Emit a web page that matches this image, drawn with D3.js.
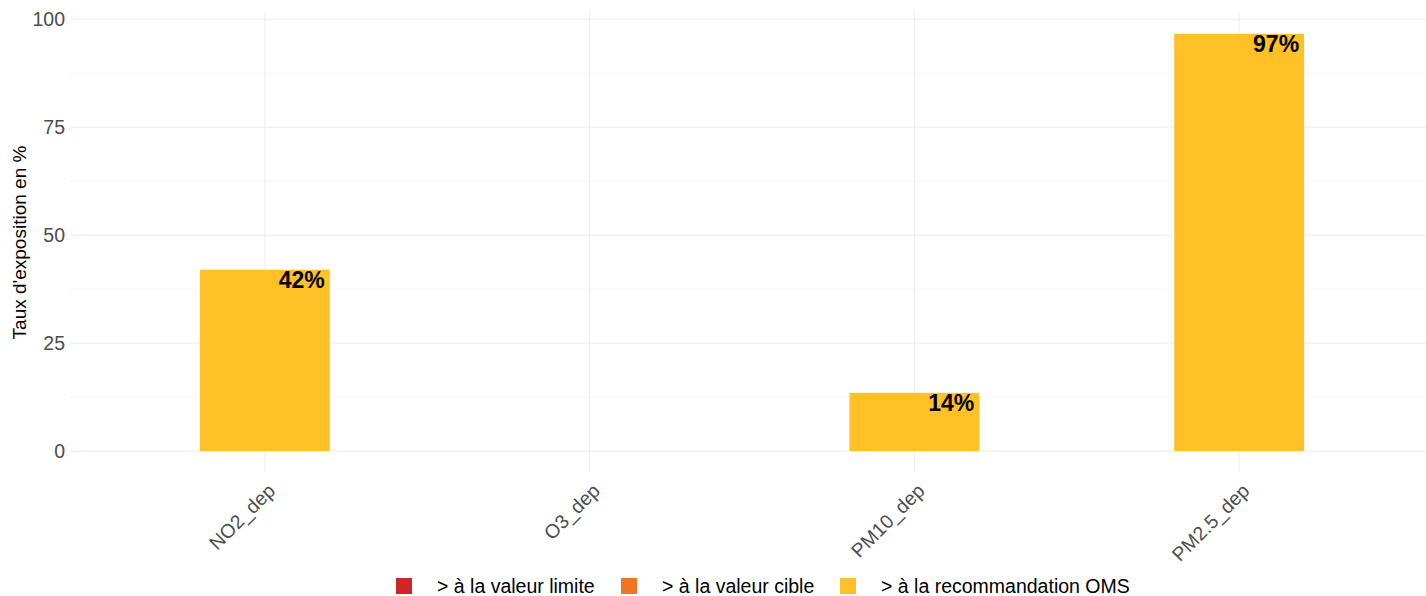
<!DOCTYPE html>
<html>
<head>
<meta charset="utf-8">
<script src="https://cdn.jsdelivr.net/npm/d3@7"></script>
<style>
  body { margin: 0; background: #fff; }
  text { font-family: "Liberation Sans", Arial, sans-serif; }
</style>
</head>
<body>
<svg id="chart"></svg>
<script>
var WIDTH = 1426, HEIGHT = 596;

// data
var categories = ["NO2_dep", "O3_dep", "PM10_dep", "PM2.5_dep"];
var values = [42, 0, 13.5, 96.6];
var labels = ["42%", "", "14%", "97%"];
var yTicks = [0, 25, 50, 75, 100];
var yMinor = [12.5, 37.5, 62.5, 87.5];
var legendLabels = ["> à la valeur limite", "> à la valeur cible", "> à la recommandation OMS"];
var legendColors = ["#CD2626", "#EE7621", "#FFC125"];

var panel = {left: 70, right: 1434, top: 13, bottom: 472};

var svg = d3.select("#chart").attr("width", WIDTH).attr("height", HEIGHT);

var x = d3.scaleLinear().domain([0.4, categories.length + 0.6]).range([panel.left, panel.right]);
var y = d3.scaleLinear().domain([-4.83, 101.43]).range([panel.bottom, panel.top]);
var step = x(2) - x(1);
var barW = step * 0.4;

var g = svg.append("g");

// minor gridlines
g.selectAll(".minor").data(yMinor).enter().append("line")
  .attr("x1", panel.left).attr("x2", WIDTH)
  .attr("y1", d => y(d)).attr("y2", d => y(d))
  .style("stroke", "#f4f4f4").style("stroke-width", 1);

// major gridlines
g.selectAll(".major").data(yTicks).enter().append("line")
  .attr("x1", panel.left).attr("x2", WIDTH)
  .attr("y1", d => y(d)).attr("y2", d => y(d))
  .style("stroke", "#ebebeb").style("stroke-width", 1);

g.selectAll(".vgrid").data(categories).enter().append("line")
  .attr("x1", (d, i) => x(i + 1)).attr("x2", (d, i) => x(i + 1))
  .attr("y1", panel.top).attr("y2", panel.bottom)
  .style("stroke", "#ebebeb").style("stroke-width", 1);

// bars
g.selectAll(".bar").data(values).enter().append("rect")
  .attr("x", (d, i) => x(i + 1) - barW / 2)
  .attr("width", barW)
  .attr("y", d => y(d))
  .attr("height", d => y(0) - y(d))
  .style("fill", "#FFC125")
  .style("stroke", d => d === 0 ? "#fff" : "none")
  .style("stroke-width", 1);

// value labels
g.selectAll(".lab").data(values).enter().append("text")
  .attr("x", (d, i) => x(i + 1) + barW / 2 - 5)
  .attr("y", d => y(d) + 18)
  .attr("text-anchor", "end")
  .style("font-size", "23px").style("font-weight", "bold").style("fill", "#000")
  .text((d, i) => labels[i]);

// y axis
var yAxis = g.append("g")
  .attr("transform", "translate(" + panel.left + ",0)")
  .call(d3.axisLeft(y).tickValues(yTicks).tickSize(0).tickPadding(5))
  .call(g => g.select(".domain").remove());
yAxis.selectAll("text").style("font-size", "19.5px").style("fill", "#4d4d4d")
  .style("font-family", "Liberation Sans, Arial, sans-serif");

// x axis
var xAxis = g.append("g")
  .attr("transform", "translate(0," + panel.bottom + ")")
  .call(d3.axisBottom(x).tickValues([1, 2, 3, 4]).tickFormat((d) => categories[d - 1]).tickSize(0))
  .call(g => g.select(".domain").remove());
xAxis.selectAll("text")
  .style("font-size", "19.5px").style("fill", "#4d4d4d")
  .style("font-family", "Liberation Sans, Arial, sans-serif")
  .attr("text-anchor", "end")
  .attr("dy", null).attr("y", 0)
  .attr("transform", "translate(11,20) rotate(-45)");

// y title
svg.append("text")
  .attr("transform", "translate(26," + ((panel.top + panel.bottom) / 2) + ") rotate(-90)")
  .attr("text-anchor", "middle")
  .style("font-size", "19px").style("fill", "#000")
  .text("Taux d'exposition en %");

// legend
var legendX = [396, 621, 840];
var legend = svg.selectAll(".legend").data(legendLabels).enter().append("g")
  .attr("transform", (d, i) => "translate(" + legendX[i] + ",578)");
legend.append("rect").attr("width", 16).attr("height", 16)
  .style("fill", (d, i) => legendColors[i]);
legend.append("text").attr("x", 41).attr("y", 15)
  .style("font-size", "19.5px").style("fill", "#000")
  .text(d => d);
</script>
</body>
</html>
